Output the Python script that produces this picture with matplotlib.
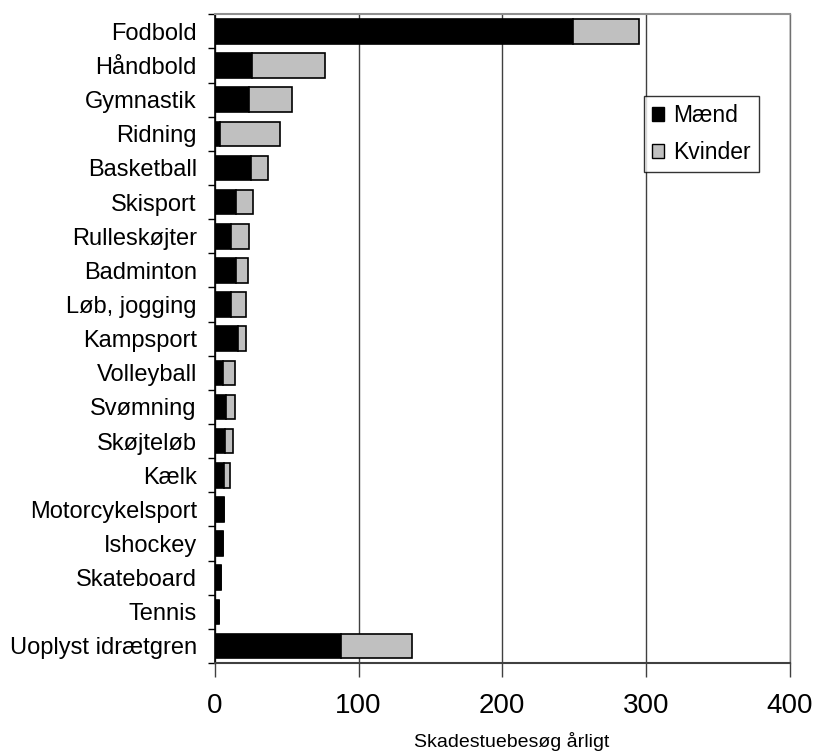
import matplotlib

matplotlib.use("Agg")
import matplotlib.pyplot as plt
import numpy as np
from matplotlib.patches import Patch

plt.rcParams["font.family"] = ["Liberation Sans", "DejaVu Sans"]

sports = [
    "Fodbold", "Håndbold", "Gymnastik", "Ridning", "Basketball", "Skisport",
    "Rulleskøjter", "Badminton", "Løb, jogging", "Kampsport", "Volleyball",
    "Svømning", "Skøjteløb", "Kælk", "Motorcykelsport", "Ishockey",
    "Skateboard", "Tennis", "Uoplyst idrætgren",
]
maend = [249, 26, 24, 3.5, 25, 14.5, 11, 14.5, 11, 16, 6, 8, 7, 6.5, 6.5, 5.5, 4, 3, 88]
kvinder = [46, 51, 30, 42, 12, 12, 13, 8.5, 11, 6, 8, 6, 5.5, 4, 0, 0, 0, 0, 49]
xticks = [0, 100, 200, 300, 400]

fig = plt.figure(figsize=(8.2, 7.53), dpi=100)
ax = fig.add_axes([0.262, 0.1195, 0.701, 0.8615])

y = np.arange(len(sports))
ax.barh(y, maend, height=0.72, color="black", edgecolor="black", linewidth=1.2, zorder=3)
ax.barh(y, kvinder, left=maend, height=0.72, color="#c0c0c0", edgecolor="black",
        linewidth=1.2, zorder=3)

ax.set_ylim(len(sports) - 0.5, -0.5)
ax.set_xlim(0, 400)

ax.set_yticks(y)
ax.set_yticklabels(sports, fontsize=17)
ax.tick_params(axis="y", length=0, pad=13)
ax.set_yticks(np.arange(len(sports) + 1) - 0.5, minor=True)
ax.tick_params(axis="y", which="minor", length=5, width=1, color="black", direction="out")

ax.set_xticks(xticks)
ax.set_xticklabels([str(v) for v in xticks], fontsize=20)
ax.tick_params(axis="x", length=10, width=1, color="#404040", direction="out", pad=11.5)
ax.set_xlabel("Skadestuebesøg årligt", fontsize=14)
ax.xaxis.set_label_coords(0.516, -0.106)

ax.grid(True, axis="x", color="#404040", linewidth=1, zorder=0)
ax.spines["left"].set_color("black")
ax.spines["left"].set_linewidth(1.2)
ax.spines["bottom"].set_color("#404040")
ax.spines["bottom"].set_linewidth(1.5)
ax.spines["top"].set_color("#909090")
ax.spines["top"].set_linewidth(1.5)
ax.spines["right"].set_color("#707070")
ax.spines["right"].set_linewidth(1)

handles = [
    Patch(facecolor="black", edgecolor="black", label="Mænd"),
    Patch(facecolor="#c0c0c0", edgecolor="black", label="Kvinder"),
]
leg = ax.legend(handles=handles, loc="upper left", bbox_to_anchor=(0.746, 0.874),
                fontsize=16.5, frameon=True, fancybox=False, handlelength=0.55,
                handleheight=0.55, handletextpad=0.4, labelspacing=0.6,
                borderpad=0.35, borderaxespad=0)
leg.get_frame().set_edgecolor("black")
leg.get_frame().set_linewidth(1)

fig.savefig("out.png", facecolor="white")
